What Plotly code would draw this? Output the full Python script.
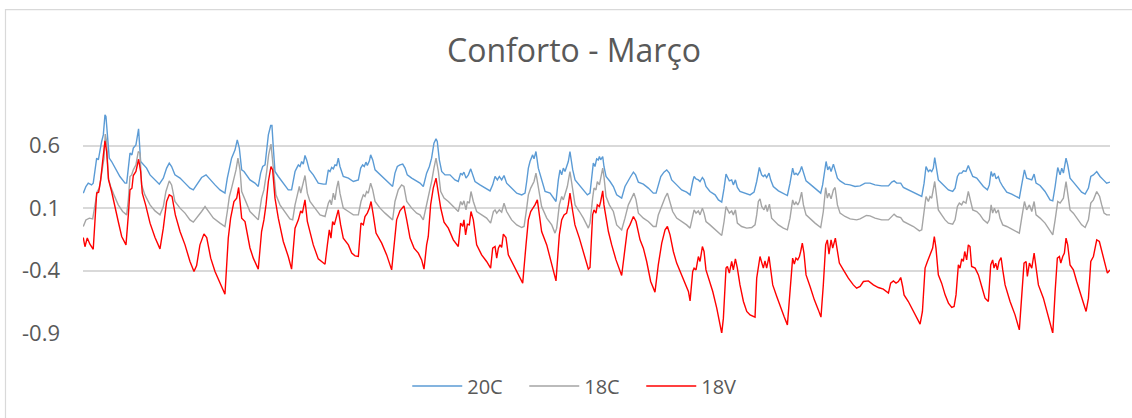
import plotly.graph_objects as go

title_text = "Conforto - Março"
series_names = ["20C", "18C", "18V"]
y_ticks = [-0.9, -0.4, 0.1, 0.6]
y_tick_labels = ["-0.9", "-0.4", "0.1", "0.6"]

# (hour of March, value)
pts_20C = [
    (0.2,0.219),(2.1,0.272),(3.8,0.299),(6.2,0.285),(7.4,0.299),(8.7,0.432),(9.9,0.499),(11.1,0.485),
    (12.3,0.565),(13.5,0.632),(14.7,0.685),(15.9,0.845),(16.6,0.832),(17.6,0.659),(19.0,0.499),(20.7,0.472),
    (23.1,0.419),(26.7,0.352),(30.4,0.299),(31.6,0.299),(32.8,0.419),(34.0,0.539),(35.4,0.525),(36.4,0.579),
    (38.3,0.605),(39.3,0.659),(40.2,0.733),(41.7,0.472),(43.6,0.445),(46.0,0.419),(48.5,0.365),(52.1,0.325),
    (55.2,0.291),(58.1,0.339),(60.5,0.419),(62.4,0.459),(64.1,0.432),(66.5,0.365),(70.2,0.339),(73.8,0.299),
    (77.4,0.259),(79.8,0.245),(82.2,0.285),(85.8,0.344),(89.0,0.365),(91.9,0.325),(95.5,0.285),(99.1,0.245),
    (102.7,0.219),(104.4,0.339),(105.9,0.405),(107.5,0.499),(110.0,0.565),(111.6,0.645),(113.1,0.579),
    (114.8,0.405),(116.5,0.392),(118.4,0.365),
    (120.8,0.325),(124.4,0.299),(126.8,0.272),(128.5,0.379),(130.0,0.432),(131.7,0.445),(132.9,0.579),
    (134.1,0.685),(135.8,0.760),(136.7,0.760),(137.7,0.579),(138.9,0.392),(141.3,0.352),(144.9,0.299),
    (148.5,0.245),(150.9,0.245),(153.4,0.392),(154.6,0.419),(155.8,0.445),(157.0,0.432),(158.2,0.472),
    (159.4,0.451),(160.6,0.520),(161.8,0.485),(163.7,0.405),(166.6,0.365),(170.2,0.299),(173.9,0.291),
    (175.8,0.291),(177.5,0.405),(178.7,0.392),(179.9,0.424),(181.1,0.413),(182.3,0.445),(183.5,0.440),
    (184.7,0.499),(185.9,0.432),(188.3,0.352),(192.0,0.339),(195.6,0.312),(199.2,0.325),(200.9,0.419),
    (202.3,0.445),(203.5,0.432),(204.7,0.467),(205.7,0.440),(207.2,0.477),(208.1,0.525),(209.6,0.485),
    (211.3,0.405),(214.9,0.365),(218.5,0.325),(222.1,0.285),(224.0,0.272),(225.7,0.379),(227.4,0.432),
    (229.3,0.445),(231.3,0.451),(233.0,0.419),(234.6,0.365),(237.8,0.339),(241.4,0.312),
    (243.8,0.299),(246.2,0.272),(248.6,0.379),(250.6,0.432),(252.2,0.499),(253.9,0.619),(255.4,0.653),
    (256.3,0.632),(257.8,0.485),(259.5,0.392),(261.9,0.365),(265.5,0.365),(269.1,0.325),(271.5,0.312),
    (273.2,0.379),(274.4,0.365),(275.6,0.387),(277.1,0.339),(278.8,0.365),(280.5,0.413),(281.9,0.365),
    (283.6,0.312),(287.2,0.285),(290.8,0.259),(294.5,0.237),(296.4,0.285),(298.1,0.352),(299.8,0.325),
    (301.2,0.352),(302.9,0.325),(304.6,0.360),(306.5,0.299),(310.1,0.259),(313.8,0.219),(317.4,0.205),
    (319.8,0.219),(321.0,0.312),(322.2,0.419),(323.4,0.472),(324.6,0.499),(325.3,0.525),(326.3,0.493),
    (327.7,0.552),(329.4,0.419),(331.8,0.325),(334.3,0.232),(337.9,0.219),(340.3,0.179),(342.2,0.152),
    (343.9,0.325),(345.1,0.405),(346.3,0.365),(347.5,0.419),(348.7,0.392),(349.9,0.432),(351.1,0.472),
    (352.3,0.552),(354.3,0.405),(356.0,0.325),(359.1,0.285),(362.0,0.245),(364.9,0.205),
    (366.8,0.219),(368.0,0.365),(369.2,0.459),(370.4,0.432),(371.6,0.493),(372.8,0.485),(373.6,0.512),
    (374.5,0.485),(376.0,0.512),(376.9,0.432),(378.4,0.352),(381.3,0.312),(383.7,0.272),(386.1,0.205),
    (389.7,0.179),(392.1,0.272),(394.5,0.325),(396.2,0.352),(398.2,0.387),(399.8,0.365),(401.8,0.307),
    (405.4,0.291),(409.0,0.259),(412.6,0.219),(414.6,0.219),(416.2,0.285),(418.0,0.352),(420.3,0.387),
    (422.3,0.405),(424.2,0.379),(425.9,0.325),(429.5,0.285),(433.1,0.245),(436.7,0.227),(439.2,0.205),
    (441.1,0.312),(442.1,0.352),(443.5,0.333),(445.2,0.325),(446.4,0.312),(448.1,0.344),(449.3,0.325),
    (450.7,0.272),(453.6,0.232),(457.3,0.205),(459.7,0.165),(462.1,0.147),(463.8,0.259),(465.2,0.371),
    (466.4,0.344),(467.6,0.317),(469.3,0.325),(470.5,0.285),(472.0,0.325),(473.4,0.264),(475.3,0.232),
    (479.0,0.219),(482.6,0.205),(485.5,0.227),(487.4,0.312),(489.3,0.424),
    (491.0,0.365),(492.2,0.352),(493.4,0.365),(494.6,0.344),(496.3,0.379),(497.5,0.325),(499.4,0.272),
    (503.1,0.237),(506.7,0.219),(509.6,0.200),(511.5,0.299),(513.4,0.419),(514.6,0.365),(515.8,0.379),
    (517.1,0.365),(518.7,0.392),(519.9,0.432),(521.2,0.392),(523.1,0.317),(526.0,0.291),(529.6,0.259),
    (533.7,0.219),(535.1,0.285),(536.8,0.432),(537.6,0.472),(538.8,0.405),(540.0,0.432),(541.2,0.392),
    (542.9,0.451),(544.1,0.405),(545.8,0.339),(547.7,0.317),(551.3,0.291),(554.9,0.285),(558.5,0.272),
    (562.2,0.277),(565.8,0.299),(569.4,0.299),(573.0,0.285),(577.8,0.277),(582.7,0.277),(585.1,0.307),
    (586.8,0.317),(588.7,0.299),(591.6,0.299),(593.5,0.264),(597.1,0.245),(600.8,0.227),(605.1,0.200),
    (606.8,0.192),(608.5,0.299),(609.9,0.432),(611.6,0.392),
    (612.8,0.405),(614.0,0.392),(615.2,0.419),(616.2,0.504),(617.1,0.445),(618.8,0.325),(621.2,0.299),
    (623.7,0.272),(626.1,0.245),(629.2,0.232),(630.9,0.259),(632.6,0.352),(634.0,0.379),(635.7,0.379),
    (636.9,0.397),(638.8,0.392),(640.5,0.440),(641.7,0.405),(643.7,0.352),(646.6,0.339),(649.0,0.307),
    (651.4,0.272),(654.3,0.245),(655.7,0.285),(657.0,0.392),(658.1,0.352),(659.4,0.379),(660.6,0.333),
    (662.2,0.352),(663.4,0.312),(665.4,0.272),(668.3,0.227),(671.9,0.211),(675.5,0.192),(677.4,0.179),
    (679.1,0.285),(681.1,0.405),(682.7,0.339),(684.7,0.333),(686.4,0.325),(688.1,0.371),(689.5,0.299),
    (692.4,0.280),(696.0,0.232),(699.6,0.165),(701.6,0.157),(703.3,0.272),(705.2,0.424),(706.9,0.365),
    (708.1,0.419),(709.3,0.379),(711.2,0.499),(712.4,0.445),(714.1,0.339),(716.5,0.307),(718.9,0.272),
    (722.5,0.227),(725.0,0.211),(727.4,0.259),(729.1,0.352),(731.0,0.365),(733.4,0.392),(735.8,0.352),
    (738.2,0.325),(740.6,0.299),(743.0,0.307),
]

pts_18C = [
    (0.2,-0.048),(2.1,0.005),(4.6,0.019),(7.0,0.013),(8.7,0.125),(10.3,0.232),(11.8,0.259),(13.5,0.392),
    (15.2,0.499),(16.1,0.691),(17.1,0.632),(18.3,0.339),(20.0,0.272),(22.4,0.205),(25.5,0.125),(28.7,0.072),
    (31.6,0.045),(32.8,0.165),(34.0,0.352),(35.2,0.365),(36.4,0.405),(38.3,0.445),(40.0,0.552),(41.2,0.539),
    (42.4,0.285),(44.8,0.205),(48.5,0.125),(52.1,0.077),(55.7,0.045),(58.1,0.112),(60.0,0.232),(62.4,0.317),
    (64.1,0.285),(66.5,0.152),(70.2,0.099),(73.8,0.059),(77.4,0.005),(79.8,-0.013),(82.2,0.019),(85.8,0.072),
    (88.3,0.112),(90.7,0.072),(94.3,0.019),(99.1,-0.021),(102.7,-0.048),(104.4,0.072),(105.9,0.192),
    (107.5,0.259),(109.2,0.325),(110.7,0.405),(112.1,0.499),(113.6,0.405),(114.8,0.232),(117.2,0.165),
    (119.6,0.099),
    (120.8,0.072),(124.4,0.032),(126.8,0.005),(129.2,0.179),(130.9,0.245),(132.9,0.392),(134.3,0.525),
    (136.0,0.611),(137.7,0.392),(139.6,0.205),(142.5,0.125),(146.1,0.072),(149.7,0.013),(151.7,0.005),
    (153.4,0.125),(155.1,0.205),(156.5,0.272),(157.5,0.219),(158.9,0.285),(160.6,0.360),(162.3,0.219),
    (164.2,0.152),(167.8,0.099),(171.5,0.045),(175.1,0.032),(177.5,0.139),(178.7,0.165),(179.7,0.125),
    (181.1,0.219),(182.3,0.165),(183.5,0.259),(184.7,0.317),(185.9,0.219),(188.3,0.099),(192.0,0.072),
    (195.6,0.045),(199.2,0.045),(201.1,0.152),(202.8,0.205),(204.0,0.192),(205.2,0.232),(206.4,0.219),
    (208.1,0.299),(209.6,0.245),(211.3,0.152),(214.9,0.099),(218.5,0.059),(222.1,0.019),(224.0,0.005),
    (225.7,0.152),(228.1,0.245),(230.5,0.285),(232.2,0.272),(234.2,0.152),(237.8,0.099),(241.4,0.059),
    (243.8,0.045),(246.2,0.005),(248.6,0.125),(250.6,0.219),(252.2,0.312),(253.9,0.419),(255.4,0.499),
    (257.1,0.392),(258.8,0.232),(261.2,0.179),(264.3,0.152),(267.9,0.112),(271.5,0.072),(273.2,0.152),
    (274.4,0.125),(275.6,0.157),(277.1,0.085),(278.1,0.152),(279.5,0.139),(280.7,0.232),(282.4,0.152),
    (284.8,0.072),(288.4,0.045),(292.0,0.019),(294.9,-0.021),(296.9,0.072),(298.1,0.085),(299.3,0.059),
    (301.2,0.085),(302.9,0.067),(304.6,0.139),(306.5,0.072),(310.1,0.005),(313.8,-0.035),(317.4,-0.056),
    (319.1,-0.048),(321.0,0.099),(322.2,0.205),(323.9,0.259),(325.3,0.285),(326.3,0.312),(327.7,0.379),
    (329.4,0.259),(331.8,0.112),(335.5,0.019),(339.1,-0.035),(341.5,-0.101),(342.7,-0.061),(344.6,0.125),
    (346.3,0.192),(347.5,0.165),(348.7,0.205),(350.4,0.272),(352.3,0.392),(354.3,0.245),(356.0,0.125),
    (359.1,0.072),(362.0,0.019),(365.6,-0.061),
    (366.8,-0.021),(368.7,0.179),(369.7,0.259),(371.1,0.245),(372.1,0.312),(373.6,0.285),(374.5,0.339),
    (376.0,0.419),(376.9,0.352),(378.4,0.192),(380.8,0.125),(383.7,0.072),(386.1,-0.035),(389.7,-0.075),
    (392.1,0.019),(394.5,0.125),(396.9,0.179),(398.6,0.219),(400.1,0.165),(401.8,0.059),(405.4,0.019),
    (409.0,-0.008),(412.6,-0.048),(414.6,-0.048),(416.2,0.045),(418.7,0.125),(421.1,0.184),(422.8,0.219),
    (424.7,0.152),(426.6,0.072),(429.5,0.019),(433.1,-0.008),(436.7,-0.035),(439.2,-0.061),(441.1,0.045),
    (442.1,0.085),(443.5,0.059),(445.2,0.077),(446.4,0.045),(448.1,0.099),(449.3,0.059),(450.7,-0.008),
    (453.6,-0.035),(457.3,-0.075),(459.7,-0.101),(462.1,-0.120),(463.8,-0.008),(465.2,0.112),(466.4,0.085),
    (467.6,0.059),(469.3,0.077),(470.5,0.045),(472.0,0.085),(473.4,-0.021),(476.5,-0.048),(480.2,-0.061),
    (483.8,-0.056),(486.2,-0.035),(487.4,0.045),(488.6,0.152),(489.8,0.173),
    (491.0,0.112),(492.7,0.085),(493.9,0.125),(495.1,0.072),(496.6,0.131),(498.2,0.019),(500.7,-0.008),
    (503.1,-0.035),(506.7,-0.061),(509.6,-0.075),(511.5,0.019),(513.4,0.165),(514.6,0.125),(515.8,0.147),
    (517.1,0.125),(518.3,0.152),(519.9,0.227),(521.2,0.125),(523.1,0.045),(526.0,0.013),(529.6,-0.021),
    (533.7,-0.056),(535.6,0.072),(537.3,0.264),(538.5,0.179),(539.7,0.219),(541.2,0.173),(542.9,0.245),
    (544.1,0.264),(545.8,0.125),(547.7,0.059),(551.3,0.032),(555.0,0.013),(559.7,0.005),(562.2,0.013),
    (566.8,0.040),(569.4,0.037),(573.0,0.019),(577.8,0.005),(582.7,0.005),(585.1,0.032),(586.8,0.051),
    (588.7,0.032),(591.6,0.024),(593.5,-0.008),(597.1,-0.029),(600.8,-0.048),(605.1,-0.083),(606.8,-0.075),
    (608.5,0.072),(609.9,0.192),(611.6,0.152),
    (612.8,0.192),(614.0,0.179),(615.2,0.245),(616.2,0.312),(617.1,0.232),(618.8,0.085),(621.2,0.045),
    (623.7,0.005),(626.1,-0.021),(629.2,-0.029),(630.9,0.005),(632.6,0.112),(634.0,0.139),(635.7,0.125),
    (636.9,0.152),(638.8,0.139),(640.5,0.232),(641.7,0.179),(643.7,0.085),(646.6,0.072),(649.0,0.045),
    (651.4,0.005),(654.3,-0.021),(655.7,0.005),(657.0,0.125),(658.1,0.059),(659.4,0.099),(660.6,0.059),
    (662.2,0.085),(663.4,0.019),(665.4,-0.035),(668.3,-0.048),(671.9,-0.067),(675.5,-0.088),(677.4,-0.101),
    (679.1,0.019),(681.1,0.152),(682.7,0.085),(684.7,0.125),(686.4,0.072),(688.1,0.152),(689.5,0.045),
    (692.4,0.019),(696.0,-0.021),(699.6,-0.088),(701.6,-0.115),(703.3,0.005),(705.2,0.152),(706.9,0.139),
    (708.1,0.165),(709.3,0.179),(711.2,0.312),(712.4,0.219),(714.1,0.085),(716.5,0.059),(718.9,0.019),
    (722.5,-0.035),(725.0,-0.056),(727.4,0.005),(729.1,0.139),(731.0,0.165),(733.4,0.232),(735.5,0.192),
    (737.0,0.125),(738.7,0.059),(740.6,0.045),(743.0,0.045),
]

pts_18V = [
    (0.2,-0.136),(1.4,-0.21),(3.1,-0.14),(5.0,-0.19),(7.4,-0.23),(8.7,0.045),(9.9,0.22),(11.3,0.226),
    (12.8,0.325),(14.2,0.472),(15.9,0.637),(17.1,0.552),(18.5,0.325),(20.7,0.232),(23.1,0.1),(25.5,-0.008),
    (28.0,-0.128),(31.1,-0.195),(32.8,0.045),(34.0,0.245),(35.4,0.258),(36.4,0.36),(38.3,0.392),(40.2,0.49),
    (41.7,0.392),(42.9,0.218),(45.3,0.125),(48.5,-0.021),(52.1,-0.136),(55.7,-0.227),(58.1,-0.061),
    (60.5,0.152),(62.4,0.205),(64.4,0.192),(66.8,0.045),(70.2,-0.088),(73.8,-0.195),(77.4,-0.328),
    (80.3,-0.408),(82.2,-0.36),(84.6,-0.195),(87.5,-0.107),(89.5,-0.136),(92.4,-0.301),(95.5,-0.408),
    (99.1,-0.5),(102.7,-0.59),(105.1,-0.141),(106.8,0.019),(109.2,0.152),(111.2,0.179),(112.6,0.264),
    (114.8,0.019),(117.2,-0.008),(119.6,-0.141),
    (120.8,-0.22),(123.2,-0.301),(126.8,-0.389),(129.2,-0.088),(130.9,0.005),(132.4,0.125),(134.1,0.312),
    (136.0,0.432),(137.2,0.405),(138.9,0.179),(141.3,0.019),(144.9,-0.168),(148.5,-0.288),(150.9,-0.389),
    (153.4,-0.061),(155.8,0.005),(157.5,0.077),(158.7,0.059),(160.6,0.165),(162.3,-0.008),(164.2,-0.088),
    (166.6,-0.195),(170.2,-0.307),(175.1,-0.35),(176.8,-0.195),(178.2,-0.075),(179.4,-0.141),(180.6,-0.008),
    (181.8,-0.035),(183.0,0.019),(184.7,0.085),(186.4,-0.035),(188.3,-0.141),(192.0,-0.195),(194.4,-0.261),
    (196.8,-0.283),(199.2,-0.288),(201.1,-0.021),(202.8,-0.035),(204.0,0.032),(205.7,0.059),(207.2,0.1),
    (208.4,0.152),(210.0,0.045),(212.0,-0.101),(216.1,-0.181),(219.7,-0.275),(223.3,-0.395),(225.0,-0.195),
    (226.9,0.005),(229.3,0.077),(232.2,0.117),(234.2,0.005),(236.6,-0.141),(239.5,-0.221),(242.6,-0.261),
    (245.0,-0.315),(246.7,-0.389),(248.6,-0.195),(249.8,-0.128),(251.5,0.125),(253.4,0.259),(255.4,0.339),
    (257.1,0.232),(258.8,0.1),(261.2,-0.013),(264.3,-0.061),(267.9,-0.155),(271.5,-0.208),(273.2,-0.021),
    (274.7,-0.048),(275.6,0.005),(276.8,-0.115),(278.1,-0.03),(279.5,-0.035),(280.7,0.072),(282.4,0.005),
    (284.8,-0.195),(288.4,-0.275),(292.0,-0.328),(294.9,-0.381),(296.4,-0.221),(298.1,-0.208),(299.3,-0.301),
    (300.5,-0.221),(301.7,-0.195),(302.9,-0.216),(304.1,-0.109),(306.0,-0.136),(307.7,-0.275),(311.3,-0.355),
    (315.0,-0.435),(318.1,-0.501),(320.5,-0.195),(322.2,0.005),(323.9,0.072),(325.8,0.1),(327.0,0.125),
    (328.7,0.165),(330.2,0.045),(331.8,-0.088),(335.5,-0.195),(339.1,-0.341),(342.2,-0.483),(344.6,-0.115),
    (346.3,0.005),(348.0,0.045),(349.9,0.059),(351.1,0.125),(352.3,0.219),(354.3,0.072),(355.9,-0.035),
    (359.1,-0.141),(362.0,-0.248),(365.6,-0.389),
    (366.8,-0.376),(368.7,0.045),(369.7,0.085),(371.1,0.059),(372.1,0.125),(373.6,0.112),(374.5,0.152),
    (376.0,0.237),(376.9,0.125),(378.4,0.005),(380.1,-0.088),(382.5,-0.195),(385.6,-0.315),(389.7,-0.44),
    (392.1,-0.221),(393.8,-0.075),(395.7,-0.035),(398.2,0.032),(400.1,-0.008),(403.0,-0.155),(405.4,-0.221),
    (407.8,-0.328),(410.7,-0.488),(413.8,-0.573),(416.2,-0.355),(418.7,-0.181),(421.1,-0.075),(422.8,-0.048),
    (424.7,-0.115),(427.1,-0.248),(429.5,-0.341),(431.9,-0.408),(434.8,-0.488),(438.0,-0.568),(439.2,-0.643),
    (441.1,-0.408),(442.1,-0.381),(443.5,-0.395),(445.2,-0.288),(446.4,-0.328),(448.1,-0.208),(449.3,-0.248),
    (450.7,-0.395),(453.2,-0.475),(455.6,-0.568),(458.5,-0.701),(462.1,-0.902),(463.3,-0.781),(465.2,-0.381),
    (466.2,-0.368),(467.6,-0.421),(469.3,-0.328),(470.5,-0.395),(472.0,-0.307),(473.4,-0.381),(475.3,-0.515),
    (477.8,-0.648),(480.2,-0.728),(482.6,-0.755),(486.2,-0.773),(487.4,-0.461),(489.8,-0.288),
    (491.0,-0.341),(492.2,-0.381),(493.4,-0.323),(494.6,-0.381),(496.3,-0.288),(497.5,-0.381),(499.0,-0.515),
    (501.9,-0.608),(504.3,-0.688),(507.2,-0.768),(509.6,-0.835),(511.5,-0.568),(513.4,-0.301),(514.6,-0.349),
    (515.8,-0.301),(517.1,-0.315),(518.3,-0.288),(519.2,-0.248),(520.4,-0.181),(521.6,-0.261),(523.1,-0.435),
    (526.0,-0.528),(529.1,-0.635),(532.0,-0.715),(533.9,-0.773),(535.6,-0.515),(537.3,-0.195),(538.5,-0.155),
    (539.7,-0.269),(541.2,-0.155),(542.4,-0.221),(544.3,-0.141),(545.8,-0.248),(547.2,-0.341),(550.1,-0.395),
    (553.7,-0.461),(557.3,-0.515),(559.7,-0.541),(562.2,-0.528),(564.6,-0.488),(568.2,-0.483),(571.8,-0.515),
    (575.4,-0.536),(579.0,-0.549),(582.7,-0.581),(584.3,-0.501),(586.3,-0.483),(588.2,-0.501),(589.9,-0.488),
    (591.6,-0.456),(593.0,-0.528),(594.0,-0.595),(597.1,-0.648),(600.8,-0.728),(603.2,-0.781),(605.6,-0.829),
    (607.3,-0.728),(609.2,-0.381),(610.9,-0.328),
    (612.8,-0.275),(614.7,-0.221),(615.9,-0.128),(617.1,-0.221),(618.8,-0.435),(621.2,-0.501),(623.7,-0.595),
    (626.1,-0.661),(628.5,-0.696),(630.2,-0.688),(631.6,-0.595),(633.3,-0.355),(634.5,-0.381),(635.7,-0.307),
    (636.9,-0.328),(637.9,-0.248),(639.3,-0.315),(640.5,-0.195),(641.7,-0.208),(642.9,-0.368),(645.4,-0.381),
    (647.8,-0.435),(650.2,-0.528),(652.6,-0.621),(655.0,-0.648),(656.7,-0.355),(658.1,-0.315),(659.1,-0.381),
    (660.3,-0.341),(661.5,-0.395),(662.7,-0.328),(664.2,-0.296),(665.4,-0.395),(667.1,-0.515),(670.7,-0.648),
    (674.3,-0.755),(677.4,-0.875),(679.1,-0.568),(680.8,-0.341),(682.3,-0.328),(683.2,-0.448),(684.7,-0.341),
    (686.4,-0.381),(688.1,-0.261),(689.5,-0.381),(691.2,-0.515),(694.8,-0.621),(698.4,-0.781),(701.6,-0.902),
    (703.3,-0.568),(704.9,-0.301),(706.4,-0.288),(707.4,-0.341),(708.8,-0.288),(710.0,-0.261),(711.2,-0.141),
    (712.4,-0.195),(714.1,-0.355),(716.5,-0.395),(718.9,-0.488),(722.5,-0.621),(725.7,-0.728),(727.4,-0.621),
    (729.1,-0.328),(731.0,-0.288),(733.4,-0.155),(735.3,-0.168),(737.0,-0.248),(739.4,-0.355),(741.1,-0.421),
    (743.0,-0.395),
]

colors = {"20C": "#5b9bd5", "18C": "#a5a5a5", "18V": "#ff0000"}
series_pts = {"20C": pts_20C, "18C": pts_18C, "18V": pts_18V}

FONT = "Open Sans"
TXT = "#595959"

fig = go.Figure()
for name in series_names:
    hrs = [p[0] for p in series_pts[name]]
    vals = [p[1] for p in series_pts[name]]
    fig.add_trace(go.Scatter(x=hrs, y=vals, mode="lines", name=name,
                             line=dict(color=colors[name], width=1.4)))

fig.update_layout(
    width=1132, height=418,
    margin=dict(l=83, r=22, t=108, b=85),
    paper_bgcolor="white", plot_bgcolor="white",
    font=dict(family=FONT, color=TXT),
    title=dict(text=title_text, x=574 / 1132, xref="container", xanchor="center",
               y=1 - 51 / 418, yref="container", yanchor="middle",
               font=dict(family=FONT, size=32, color=TXT)),
    showlegend=True,
    legend=dict(orientation="h", x=0.5148, xref="container", xanchor="center",
                y=1 - 386 / 418, yref="container", yanchor="middle",
                font=dict(family=FONT, size=20, color=TXT), itemwidth=50,
                entrywidth=52, entrywidthmode="pixels", bgcolor="rgba(0,0,0,0)"),
    xaxis=dict(range=[0, 743], showgrid=False, showticklabels=False, zeroline=False,
               showline=False, ticks=""),
    yaxis=dict(range=[-0.9, 0.9], tickvals=y_ticks, ticktext=y_tick_labels,
               showgrid=True, gridcolor="#d9d9d9", gridwidth=1.5, zeroline=False,
               showline=False, ticks="", ticklabelstandoff=22,
               tickfont=dict(family=FONT, size=22, color=TXT)),
    shapes=[dict(type="rect", xref="paper", yref="paper",
                 x0=(5.5 - 83) / 1027, x1=(1145 - 83) / 1027,
                 y0=(333.3 - 430) / 225, y1=(333.3 - 10) / 225,
                 line=dict(color="#d9d9d9", width=1.2), fillcolor="rgba(0,0,0,0)", layer="below")],
)

fig.write_html("out.html", config={"displayModeBar": False},
               post_script="document.body.style.margin='0px';")
